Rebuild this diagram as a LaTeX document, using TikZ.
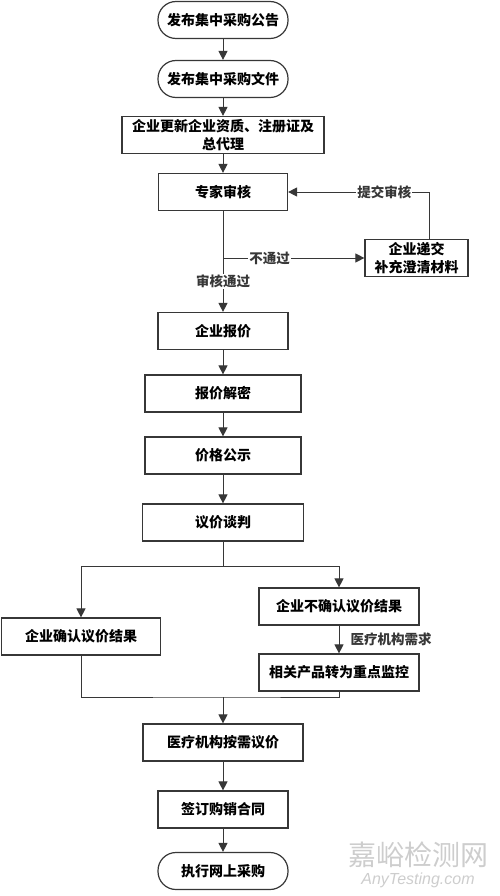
\documentclass[tikz,border=0pt]{standalone}
\usepackage{fontspec}
\setmainfont{Noto Sans CJK SC}
\newfontfamily\latinfont{Liberation Sans}
\usepackage{tikz}
\usetikzlibrary{positioning,arrows.meta}
\definecolor{boxcol}{RGB}{55,55,55}
\definecolor{wmcol}{RGB}{205,205,205}

\begin{document}
\begin{tikzpicture}[x=1pt, y=-1pt,
  bx/.style={rectangle, draw=boxcol, line width=1.2pt, fill=white,
             font=\bfseries\fontsize{14}{18}\selectfont, minimum width=#1,
             minimum height=37pt, align=center, inner sep=1pt},
  bx/.default=130pt,
  rd/.style={bx=130pt, rounded corners=18pt},
  ar/.style={-{Triangle[length=9pt,width=9pt]}, line width=1pt, boxcol},
  ln/.style={line width=1pt, boxcol},
  lb/.style={font=\bfseries\fontsize{13.5}{16}\selectfont, fill=white, inner sep=1pt},
]
\useasboundingbox (0,0) rectangle (500,896);

\node[rd]       (pub1)  at (223,20)    {发布集中采购公告};
\node[rd]       (pub2)  at (223,79)    {发布集中采购文件};
\node[bx=202pt] (upd)   at (223,135)   {企业更新企业资质、注册证及\\总代理};
\node[bx=129pt] (rev)   at (223,192)   {专家审核};
\node[bx=103pt] (sup)   at (416.5,258) {企业递交\\补充澄清材料};
\node[bx]       (quote) at (223,331)   {企业报价};
\node[bx=156pt] (decr)  at (223,393.5) {报价解密};
\node[bx=156pt] (pubp)  at (223,455.5) {价格公示};
\node[bx=161pt] (nego)  at (223,522.5) {议价谈判};
\node[bx=160pt] (nok)   at (339,606.5) {企业不确认议价结果};
\node[bx=159pt] (ok)    at (81,636.5)  {企业确认议价结果};
\node[bx=160pt] (mon)   at (339,672.5) {相关产品转为重点监控};
\node[bx=160pt] (need)  at (223,742.5) {医疗机构按需议价};
\node[bx]       (sign)  at (223,809.5) {签订购销合同};
\node[rd]       (exec)  at (223,871)   {执行网上采购};

\foreach \a/\b in {pub1/pub2,pub2/upd,upd/rev,quote/decr,decr/pubp,pubp/nego,need/sign,sign/exec}
  \draw[ar] (\a.south) -- (\b.north);

% review loop
\draw[ar] (rev.south) -- node[lb, pos=0.7] {审核通过} (quote.north);
\coordinate (fail) at (rev.south |- sup.west);
\draw[ar] (fail) -- node[lb, pos=0.33] {不通过} (sup.west);
\draw[ar] ([xshift=13pt]sup.north) |- node[lb, pos=0.66] {提交审核} (rev.east);

% split after negotiation
\coordinate (split) at (223,566);
\draw[ln] (nego.south) -- (split);
\draw[ar] (split) -| (ok.north);
\draw[ar] (split) -| (nok.north);
\draw[ar] (nok.south) -- node[lb, right=10pt] {医疗机构需求} (mon.north);

% merge
\coordinate (merge) at (223,697);
\draw[ln] (ok.south) |- (merge) -| (mon.south);
\draw[ar] (merge) -- (need.north);

\node[font=\fontsize{28}{28}\selectfont, text=wmcol] (wm) at (418,855) {嘉峪检测网};
\node[font=\latinfont\itshape\fontsize{16}{16}\selectfont, text=wmcol, below=-2pt of wm] {AnyTesting.com};
\end{tikzpicture}
\end{document}
